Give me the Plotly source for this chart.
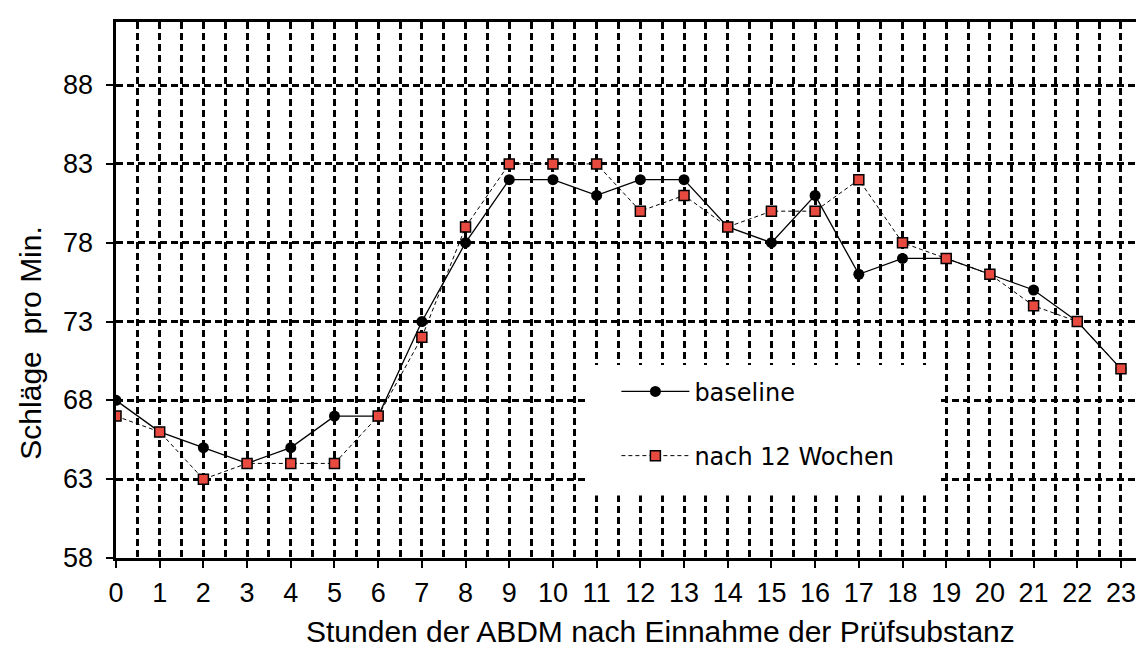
import plotly.graph_objects as go

hours = list(range(24))
baseline = [68, 66, 65, 64, 65, 67, 67, 73, 78, 82, 82, 81, 82, 82, 79, 78, 81, 76, 77, 77, 76, 75, 73, 70]
nach_12_wochen = [67, 66, 63, 64, 64, 64, 67, 72, 79, 83, 83, 83, 80, 81, 79, 80, 80, 82, 78, 77, 76, 74, 73, 70]
y_ticks = [58, 63, 68, 73, 78, 83, 88]
x_title = "Stunden der ABDM nach Einnahme der Prüfsubstanz"
y_title = "Schläge\u00a0 pro Min."

GRID = dict(gridcolor="black", gridwidth=2.5, griddash="7px,4px")
FONT = "Liberation Sans, Arial, sans-serif"

fig = go.Figure()
fig.add_trace(go.Scatter(
    x=hours, y=baseline, name="baseline", mode="lines+markers",
    line=dict(color="black", width=1.3),
    marker=dict(symbol="circle", size=11, color="black"),
    legendgroup="a",
))
fig.add_trace(go.Scatter(
    x=hours, y=nach_12_wochen, name="nach 12 Wochen", mode="lines+markers",
    line=dict(color="black", width=1, dash="4px,3px"),
    marker=dict(symbol="square", size=10, color="#e84a3f",
                line=dict(color="black", width=1.5)),
    legendgroup="b",
))

# white legend area covering the grid
fig.add_shape(type="rect", xref="x", yref="y", x0=10.8, x1=18.85, y0=61.96, y1=70.25,
              fillcolor="white", line=dict(width=0), layer="between")

# y tick labels (placed a little farther from the axis than Plotly's default)
for v in y_ticks:
    fig.add_annotation(text=str(v), xref="paper", yref="y", x=0, y=v,
                       xanchor="right", yanchor="middle", xshift=-21, showarrow=False,
                       font=dict(family=FONT, size=27, color="black"))

fig.add_annotation(text=x_title, xref="paper", yref="paper", x=0.526, y=-0.172,
                   xanchor="center", yanchor="bottom", showarrow=False,
                   font=dict(family=FONT, size=30, color="black"))
fig.add_annotation(text=y_title, xref="paper", yref="paper", x=-0.082, y=0.40,
                   xanchor="center", yanchor="middle", showarrow=False, textangle=-90,
                   font=dict(family=FONT, size=30, color="black"))

fig.update_layout(
    width=1144, height=653,
    margin=dict(l=108, r=0, t=14, b=103),
    paper_bgcolor="white", plot_bgcolor="white",
    font=dict(family=FONT, size=27, color="black"),
    showlegend=True,
    legend=dict(
        x=0.483, y=0.352, xanchor="left", yanchor="top",
        bgcolor="rgba(0,0,0,0)", borderwidth=0,
        font=dict(family="DejaVu Sans", size=24, color="black"),
        itemwidth=68, traceorder="grouped", tracegroupgap=30,
    ),
    xaxis=dict(
        range=[0, 23.71], tickmode="array", tickvals=hours,
        ticktext=[str(h) for h in hours],
        ticks="outside", ticklen=7, tickwidth=2, tickcolor="black",
        showline=True, linecolor="black", linewidth=2.5, mirror=True,
        showgrid=True, zeroline=False, automargin=False, **GRID,
        minor=dict(dtick=0.5, tick0=0, showgrid=True, ticks="", **GRID),
        tickfont=dict(size=27), ticklabelstandoff=2,
    ),
    yaxis=dict(
        range=[58, 92], tickmode="array", tickvals=y_ticks,
        showticklabels=False,
        ticks="outside", ticklen=7, tickwidth=2, tickcolor="black",
        showline=True, linecolor="black", linewidth=2.5,
        showgrid=True, zeroline=False, automargin=False, **GRID,
    ),
)

fig.write_html("out.html")
